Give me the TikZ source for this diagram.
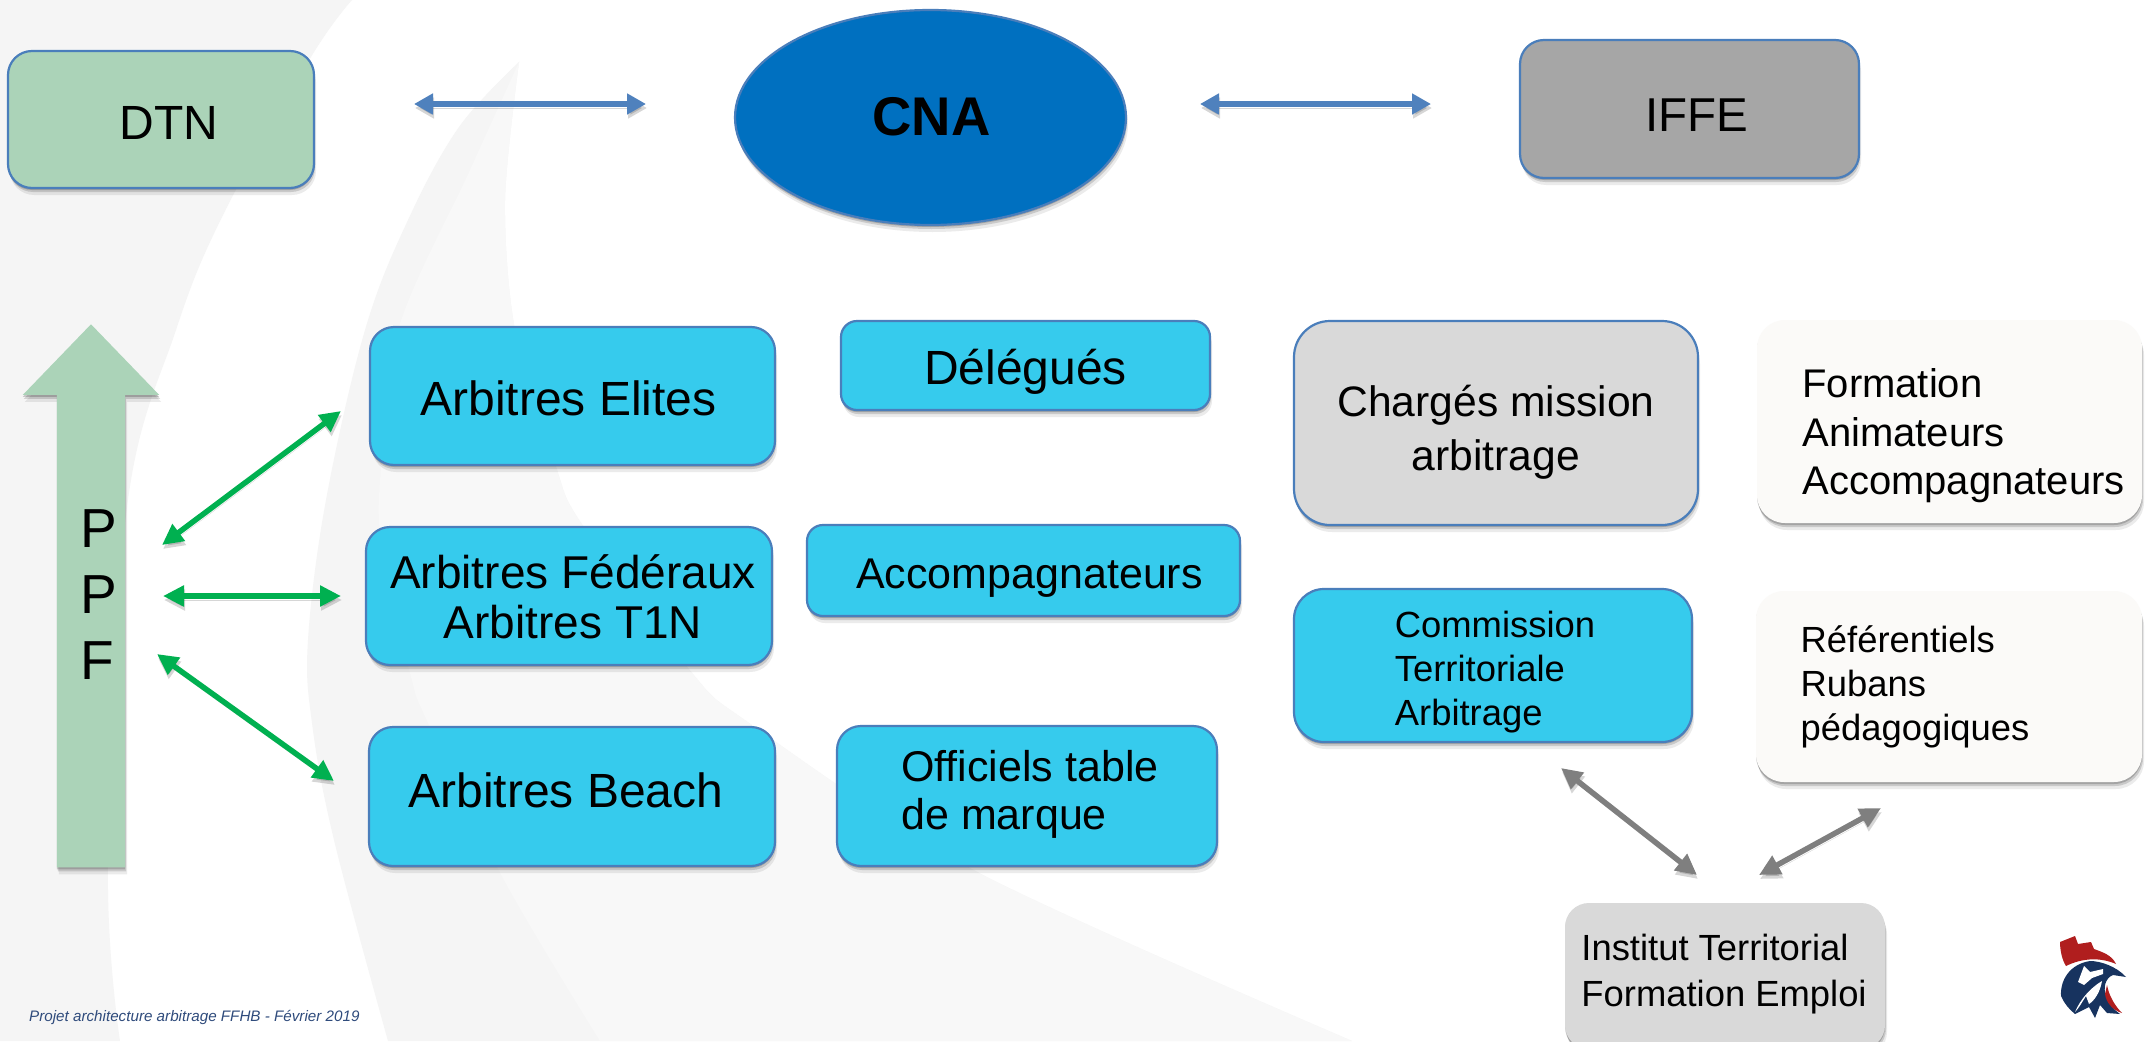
\documentclass[tikz,border=0pt]{standalone}
\usepackage{fontspec}
\setmainfont{Liberation Sans}
\usetikzlibrary{shapes.geometric,shapes.arrows,shadows,arrows.meta}
\definecolor{bgA}{HTML}{F5F5F5}
\definecolor{bgB}{HTML}{F8F8F8}
\definecolor{edgeblue}{HTML}{4A7EBB}
\definecolor{arrowblue}{HTML}{4F81BD}
\definecolor{sage}{HTML}{ABD3B8}
\definecolor{cnablue}{HTML}{0070C0}
\definecolor{cyanbox}{HTML}{36CBED}
\definecolor{midgray}{HTML}{A6A6A6}
\definecolor{lightgray}{HTML}{D9D9D9}
\definecolor{offwhite}{HTML}{FBFAF8}
\definecolor{arrowgreen}{HTML}{00B050}
\definecolor{arrowgray}{HTML}{7F7F7F}
\definecolor{footblue}{HTML}{2F4B7C}
\definecolor{logored}{HTML}{B01E1E}
\definecolor{logoblue}{HTML}{17335F}
\newcommand{\fs}[2]{\fontsize{#1}{#2}\selectfont}
\newsavebox{\shiftbox}
% text offset inside a box: dx right, dy up, column type, font, lines
\newcommand{\shifted}[5]{\sbox{\shiftbox}{#4\begin{tabular}{@{}#3@{}}#5\end{tabular}}\makebox[0pt]{\hspace*{\dimexpr 2\dimexpr #1pt\relax\relax}\raisebox{\dimexpr #2pt+(\dp\shiftbox-\ht\shiftbox)/2\relax}[0pt][0pt]{\usebox{\shiftbox}}}}
\tikzset{
  x=1pt,y=-1pt,
  softshadow/.style={
    drop shadow={shadow xshift=0pt,shadow yshift=-2pt,opacity=.18,fill=black},
    drop shadow={shadow xshift=1pt,shadow yshift=-4pt,opacity=.14,fill=black},
    drop shadow={shadow xshift=2pt,shadow yshift=-7pt,opacity=.08,fill=black}},
  boxbase/.style={rectangle,rounded corners=#1,softshadow,inner sep=0pt,text=black},
  boxbase/.default=24pt,
  edged/.style={draw=edgeblue,line width=2.2pt},
  connshadow/.style={preaction={draw=black,opacity=.16,transform canvas={yshift=-4pt,xshift=1pt}}},
  blueconn/.style={connshadow,draw=arrowblue,line width=6pt,{Triangle[length=19pt,width=20pt]}-{Triangle[length=19pt,width=20pt]}},
  greenconn/.style={connshadow,draw=arrowgreen,line width=5.5pt,{Triangle[length=21pt,width=20pt]}-{Triangle[length=21pt,width=20pt]}},
  grayconn/.style={connshadow,draw=arrowgray,line width=5.5pt,{Triangle[length=21pt,width=20pt]}-{Triangle[length=21pt,width=20pt]}},
}
\newcommand{\bx}[7]{\node[#2,minimum width=\dimexpr #5pt-#3pt\relax,minimum height=\dimexpr #6pt-#4pt\relax] (#1) at ({(#3+#5)/2},{(#4+#6)/2}) {#7};}
\begin{document}
\begin{tikzpicture}
\useasboundingbox (0,0) rectangle (2151,1041);
\fill[white] (0,0) rectangle (2151,1041);
% background swooshes
\fill[bgA] (0,0) -- (352,0) -- plot[smooth,tension=.6] coordinates {(352,0) (311,57) (224,213) (176,330) (127,507) (108,867) (120,1041)} -- (0,1041) -- cycle;
\fill[bgA] plot[smooth,tension=.6] coordinates {(519,62) (459,127) (408,220) (365,330) (326,500) (308,640) (312,723) (334,840) (388,1041)} -- (1352,1041) -- plot[smooth,tension=.5] coordinates {(1352,1041) (979,873) (749,723) (692,673) (581,523) (556,467) (515,330) (505,200) (519,62)} -- cycle;
\fill[bgB] plot[smooth,tension=.6] coordinates {(519,62) (470,170) (398,330) (381,467) (382,550) (410,673) (428,723) (504,880) (600,1041)} -- (1352,1041) -- plot[smooth,tension=.5] coordinates {(1352,1041) (979,873) (749,723) (692,673) (581,523) (556,467) (515,330) (505,200) (519,62)} -- cycle;
% top row
\bx{dtn}{boxbase,edged,fill=sage}{8}{51}{314}{188}{\shifted{8}{-9}{c}{\fs{48}{56}}{DTN}}
\node[ellipse,edged,fill=cnablue,softshadow,inner sep=0pt,minimum width=391pt,minimum height=215pt] (cna) at (930.5,117.5) {\shifted{1}{-6}{c}{\fs{54.5}{62}\bfseries}{CNA}};
\bx{iffe}{boxbase,edged,fill=midgray}{1520}{40}{1859}{178}{\shifted{7}{-11}{c}{\fs{47.5}{56}}{IFFE}}
% PPF arrow
\node[single arrow,single arrow head extend=34pt,single arrow tip angle=88,shape border rotate=90,fill=sage,softshadow,inner sep=34pt,minimum height=543pt,minimum width=136pt,anchor=tip,text=black] (ppf) at (91,324) {\shifted{8}{13}{l}{\fs{55}{66}}{P\\P\\F}};
% columns
\bx{elites}{boxbase,edged,fill=cyanbox}{370}{327}{775}{465}{\shifted{-4}{-8}{c}{\fs{48}{56}}{Arbitres Elites}}
\bx{delegues}{boxbase=16pt,edged,fill=cyanbox}{841}{321}{1210}{410}{\shifted{0}{-8}{c}{\fs{48}{56}}{Délégués}}
\bx{federaux}{boxbase,edged,fill=cyanbox}{366}{527}{772}{665}{\shifted{4}{-7}{c}{\fs{46}{50}}{Arbitres Fédéraux\\Arbitres T1N}}
\bx{accomp}{boxbase=16pt,edged,fill=cyanbox}{807}{525}{1240}{616}{\shifted{6}{-8}{c}{\fs{43}{50}}{Accompagnateurs}}
\bx{beach}{boxbase,edged,fill=cyanbox}{369}{727}{775}{866}{\shifted{-6}{0}{c}{\fs{48}{56}}{Arbitres Beach}}
\bx{officiels}{boxbase,edged,fill=cyanbox}{837}{726}{1217}{866}{\shifted{3}{0}{l}{\fs{43}{48}}{Officiels table\\de marque}}
\bx{charges}{boxbase=36pt,edged,fill=lightgray}{1294}{321}{1698}{525}{\shifted{0}{-10}{c}{\fs{42.6}{53.5}}{Chargés mission\\arbitrage}}
\bx{formation}{boxbase=28pt,fill=offwhite}{1757}{320}{2142}{523}{\shifted{14}{-15}{l}{\fs{40}{48.5}}{Formation\\Animateurs\\Accompagnateurs}}
\bx{commission}{boxbase=30pt,edged,fill=cyanbox}{1294}{589}{1692}{742}{\shifted{2}{-7}{l}{\fs{36.4}{44}}{Commission\\Territoriale\\Arbitrage}}
\bx{referentiels}{boxbase=28pt,fill=offwhite}{1756}{591}{2142}{782}{\shifted{-34}{-1.5}{l}{\fs{36.4}{44}}{Référentiels\\Rubans\\pédagogiques}}
\bx{institut}{boxbase=24pt,fill=lightgray}{1565}{903}{1885}{1049}{\shifted{-1}{2}{l}{\fs{36.4}{46.5}}{Institut Territorial\\Formation Emploi}}
% connector free ends
\coordinate (dtnEnd) at (414,104);
\coordinate (cnaEndL) at (646,104);
\coordinate (cnaEndR) at (1200,104);
\coordinate (iffeEnd) at (1431,104);
\coordinate (ppfA) at (162,545);
\coordinate (elitesEnd) at (341,411);
\coordinate (ppfB) at (163,596);
\coordinate (fedEnd) at (341,596);
\coordinate (ppfC) at (157,654);
\coordinate (beachEnd) at (334,781);
\coordinate (comEnd) at (1561,768);
\coordinate (instL) at (1697,875);
\coordinate (instR) at (1759,875);
\coordinate (refEnd) at (1881,808);
\draw[blueconn] (dtnEnd) -- (cnaEndL);
\draw[blueconn] (cnaEndR) -- (iffeEnd);
\draw[greenconn] (ppfA) -- (elitesEnd);
\draw[greenconn] (ppfB) -- (fedEnd);
\draw[greenconn] (ppfC) -- (beachEnd);
\draw[grayconn] (comEnd) -- (instL);
\draw[grayconn] (instR) -- (refEnd);
% footer
\node[anchor=west,inner sep=0pt,text=footblue] (footer) at (29,1017) {\fs{15.2}{18}\itshape Projet architecture arbitrage FFHB - Février 2019};
% logo
\fill[logored] (2060,942) -- (2075,936) -- (2078,944) -- (2091,942) -- (2094,949) .. controls (2102,952) and (2112,955) .. (2116,964) .. controls (2100,957) and (2082,958) .. (2066,966) .. controls (2062,960) and (2060,950) .. (2060,942) -- cycle;
\fill[logoblue] (2090,961) .. controls (2100,961) and (2116,966) .. (2126,977) -- (2113,975) .. controls (2105,978) and (2103,988) .. (2106,996) .. controls (2109,1004) and (2114,1010) .. (2120,1014) -- (2107,1013) -- (2100,1005) -- (2095,1018) -- (2089,1007) -- (2075,1014) .. controls (2068,1008) and (2064,1003) .. (2061,996) .. controls (2060,980) and (2070,964) .. (2090,961) -- cycle;
\fill[white] (2084,966) -- (2090,972) -- (2103,969) -- (2103,974) -- (2092,978) -- (2084,985) -- (2078,982) -- cycle;
\fill[white] (2075,1012) .. controls (2080,1000) and (2090,988) .. (2102,981) .. controls (2100,992) and (2095,1000) .. (2089,1004) -- (2086,996) .. controls (2082,1002) and (2079,1008) .. (2075,1012) -- cycle;
\fill[logored] (2107,985) .. controls (2109,996) and (2115,1006) .. (2122,1013) .. controls (2112,1010) and (2106,1002) .. (2105,994) -- cycle;
\end{tikzpicture}
\end{document}
